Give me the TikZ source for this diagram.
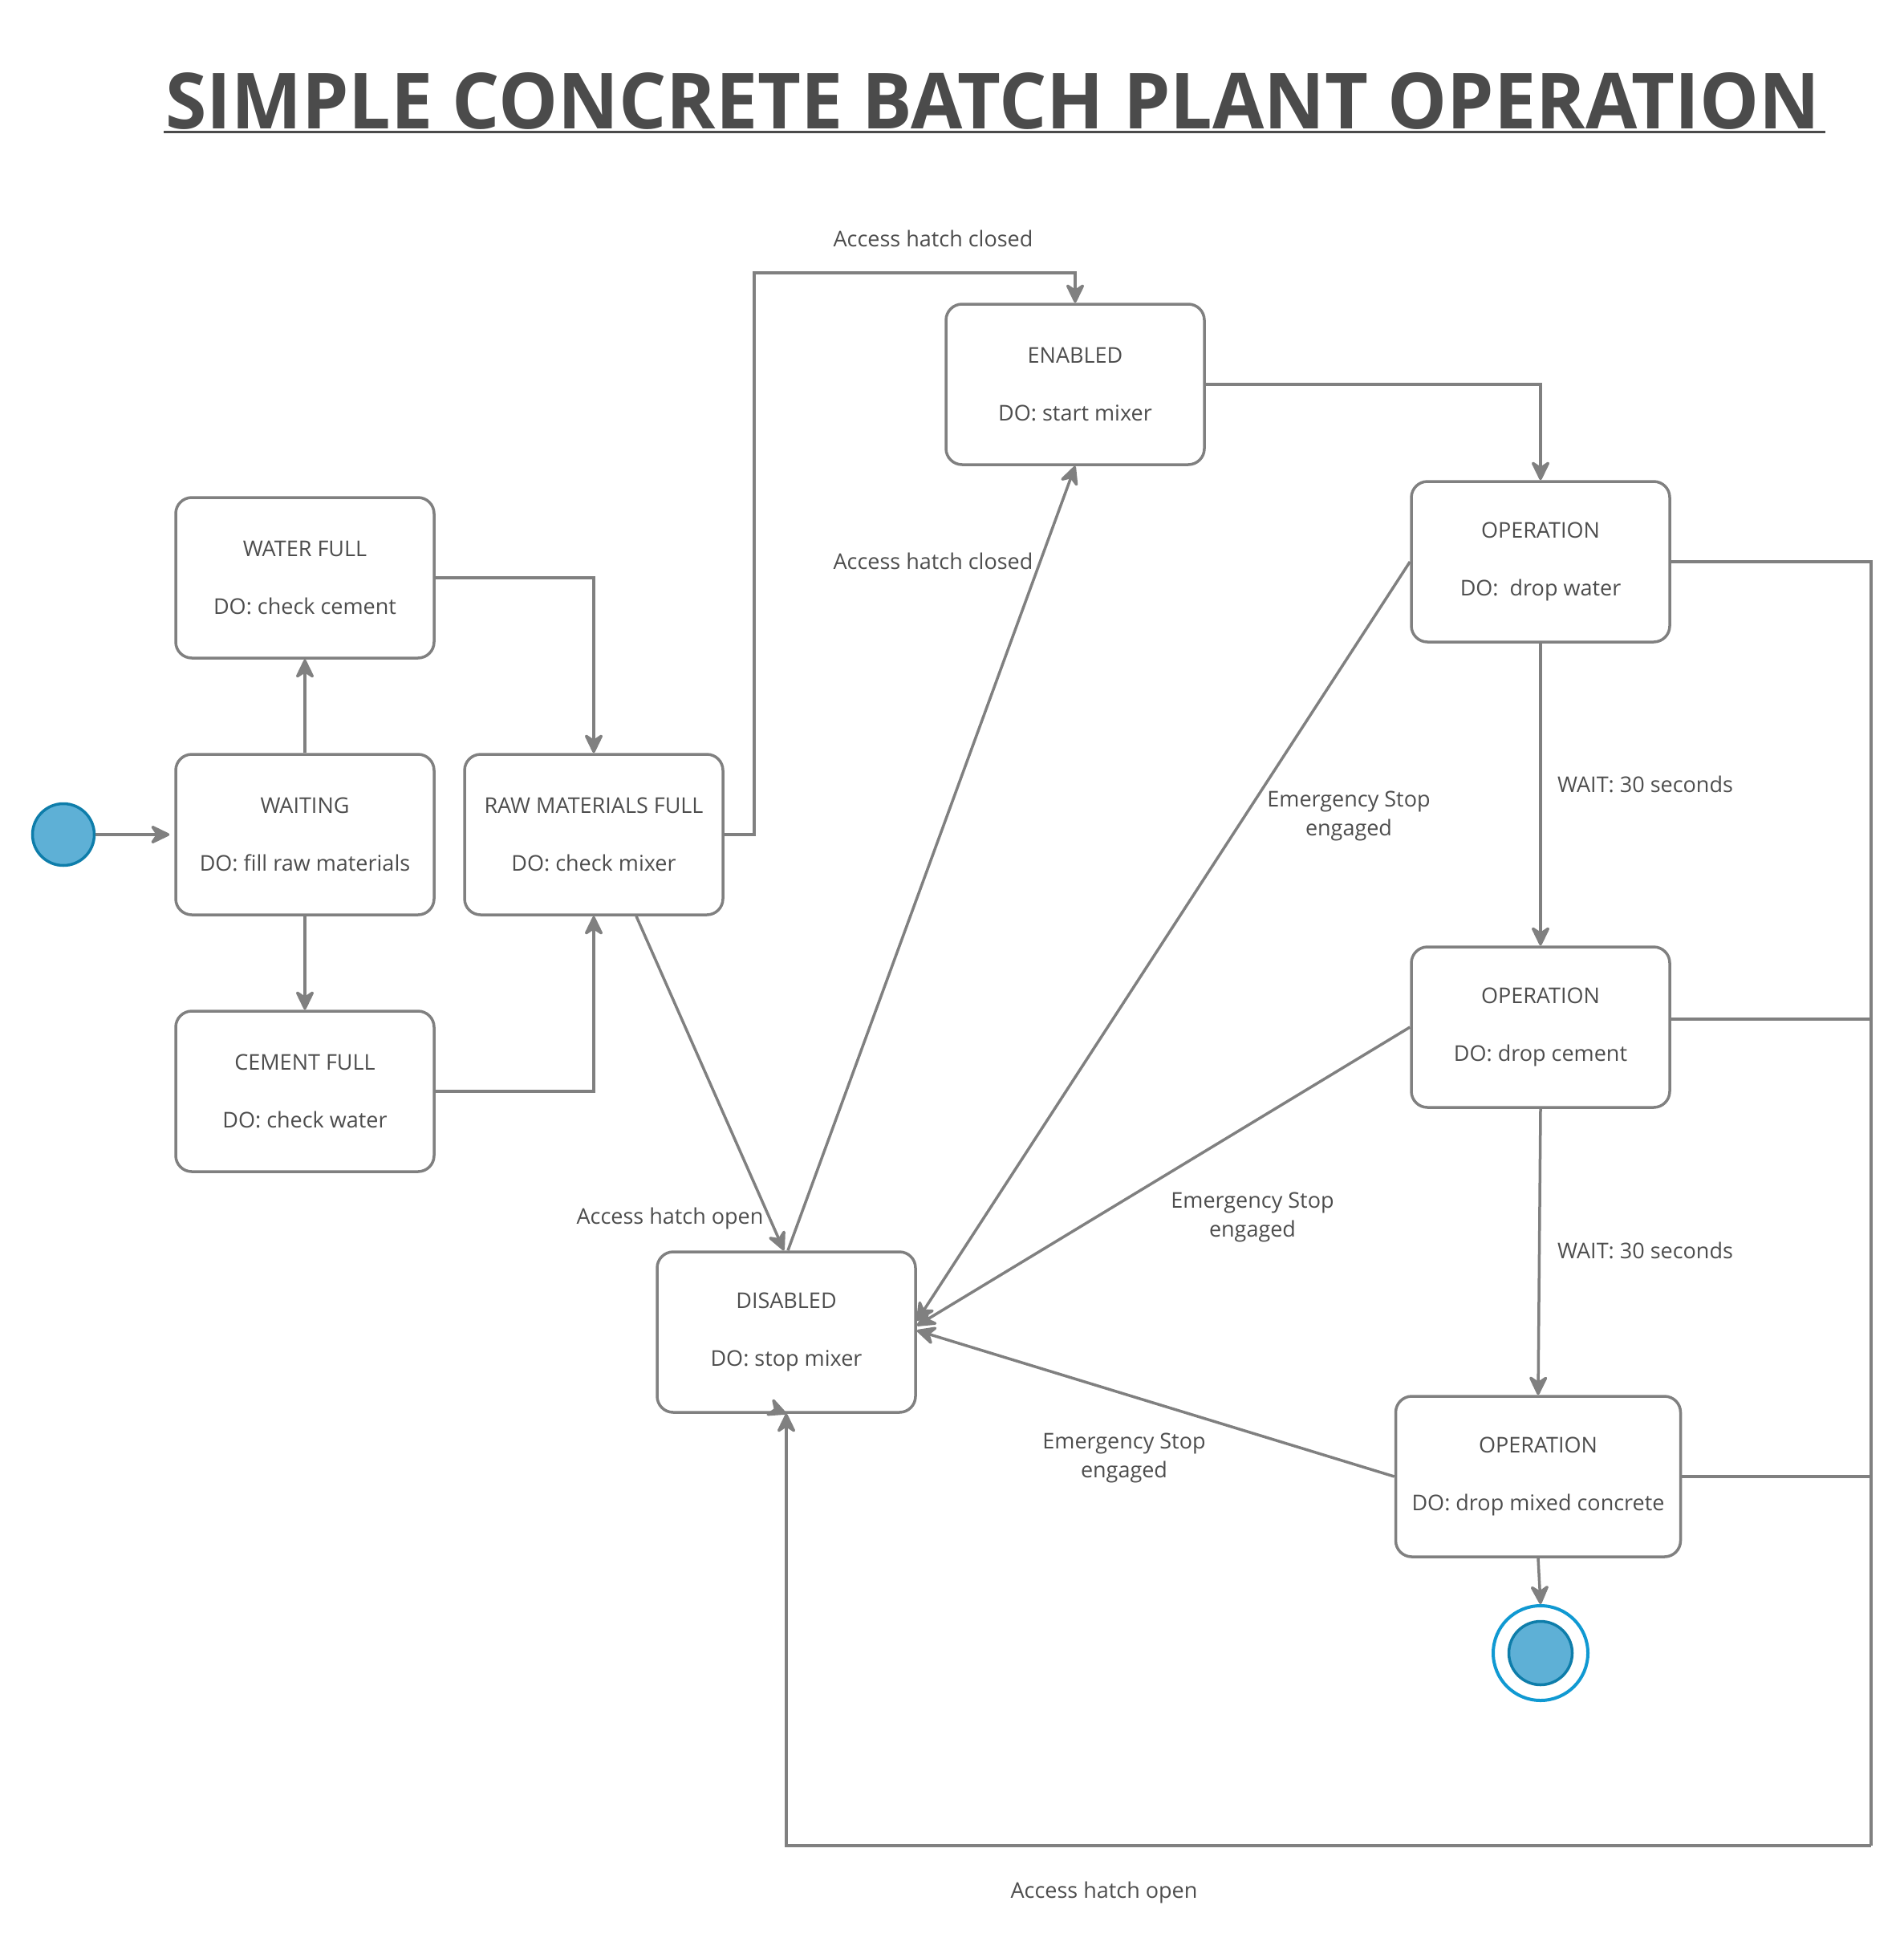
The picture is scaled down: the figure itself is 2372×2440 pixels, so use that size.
\documentclass[tikz,border=0pt]{standalone}
\usepackage{fontspec}
\setmainfont{Open Sans}
\usetikzlibrary{arrows.meta,calc}
\definecolor{linegray}{RGB}{128,128,128}
\definecolor{txtgray}{RGB}{77,77,77}
\definecolor{titlegray}{RGB}{75,75,75}
\definecolor{dotfill}{RGB}{94,176,214}
\definecolor{dotedge}{RGB}{14,125,170}
\definecolor{ringblue}{RGB}{16,153,210}
\begin{document}
\begin{tikzpicture}[x=1pt,y=-1pt,
  state/.style={draw=linegray, line width=3.5pt, rounded corners=20pt, fill=white,
    minimum width=322pt, minimum height=200pt, inner sep=0pt, align=center,
    text=txtgray, font=\fontsize{27}{36}\selectfont},
  lbl/.style={text=txtgray, font=\fontsize{27}{36}\selectfont, align=center, inner sep=0pt},
  conn/.style={draw=linegray, line width=3.5pt, -{Stealth[length=28pt,width=27pt,inset=9pt,round]}},
  plain/.style={draw=linegray, line width=3.5pt},
]
\useasboundingbox (0,0) rectangle (2372,2440);

% title
\node[anchor=base west, inner sep=0pt, text=titlegray] (title) at (206,161)
  {\resizebox{2062pt}{70pt}{\bfseries SIMPLE CONCRETE BATCH PLANT OPERATION}};
\draw[titlegray, line width=3pt] (204,165) -- (2275,165);

% states
\node[state] (water)  at (380,720)  {WATER FULL\\[36pt]DO: check cement};
\node[state] (wait)   at (380,1040) {WAITING\\[36pt]DO: fill raw materials};
\node[state] (cement) at (380,1360) {CEMENT FULL\\[36pt]DO: check water};
\node[state] (raw)    at (740,1040) {RAW MATERIALS FULL\\[36pt]DO: check mixer};
\node[state] (en)     at (1340,479) {ENABLED\\[36pt]DO: start mixer};
\node[state] (op1)    at (1920,700) {OPERATION\\[36pt]DO:\ \ drop water};
\node[state] (op2)    at (1920,1280) {OPERATION\\[36pt]DO: drop cement};
\node[state, minimum width=355pt] (op3) at (1917,1840) {OPERATION\\[36pt]DO: drop mixed concrete};
\node[state] (dis)    at (980,1660) {DISABLED\\[36pt]DO: stop mixer};

% start / end
\node[circle, fill=dotfill, draw=dotedge, line width=3.5pt, minimum size=77pt, inner sep=0pt] (start) at (79,1040) {};
\node[circle, fill=white, draw=ringblue, line width=4pt, minimum size=118pt, inner sep=0pt] (endring) at (1920,2060) {};
\node[circle, fill=dotfill, draw=dotedge, line width=3.5pt, minimum size=79pt, inner sep=0pt] (enddot) at (1920,2060) {};

% helper coordinates
\coordinate (hatchtop) at (940,340);
\coordinate (busTop) at (2332,700);
\coordinate (busMid) at (2332,1270);
\coordinate (busLow) at (2332,1840);
\coordinate (busBot) at (2332,2300);

% connectors
\draw[conn] (start.east) -- ($(wait.west)+(-6,0)$);
\draw[conn] (wait.north) -- (water.south);
\draw[conn] (wait.south) -- (cement.north);
\draw[conn] (water.east) -| (raw.north);
\draw[conn] (cement.east) -| (raw.south);
\draw[conn] (raw.east) -| (hatchtop) -| (en.north);
\draw[conn] (en.east) -| (op1.north);
\draw[conn] (op1.south) -- (op2.north);
\draw[conn] (op2.south) -- (op3.north);
\draw[conn] (op3.south) -- (endring.north);
\draw[conn] ($(raw.south)+(53,0)$) -- ($(dis.north)+(-3,0)$);
\draw[conn] ($(dis.north)+(2,0)$) -- (en.south);
\draw[conn] (op1.west) -- ($(dis.east)+(0,-14)$);
\draw[conn] (op2.west) -- ($(dis.east)+(0,-8)$);
\draw[conn] (op3.west) -- ($(dis.east)+(0,-2)$);
\draw[plain] (op1.east) -- (busTop) -- (busBot);
\draw[plain] ($(op2.east)+(0,-10)$) -- (busMid);
\draw[plain] (op3.east) -- (busLow);
\draw[conn] (busBot) -| (dis.south);
\draw[conn] ($(dis.south)+(-5,-2)$) -- (dis.south);

% labels
\node[lbl] (l1) at (1163,297) {Access hatch closed};
\node[lbl] (l2) at (1163,699) {Access hatch closed};
\node[lbl] (l3) at (835,1518) {Access hatch open};
\node[lbl] (l4) at (1681,1017) {Emergency Stop\\engaged};
\node[lbl] (l5) at (1561,1517) {Emergency Stop\\engaged};
\node[lbl] (l6) at (1401,1817) {Emergency Stop\\engaged};
\node[lbl, anchor=west] (l7) at (1941,977) {WAIT: 30 seconds};
\node[lbl, anchor=west] (l8) at (1941,1558) {WAIT: 30 seconds};
\node[lbl] (l9) at (1376,2358) {Access hatch open};
\end{tikzpicture}
\end{document}
